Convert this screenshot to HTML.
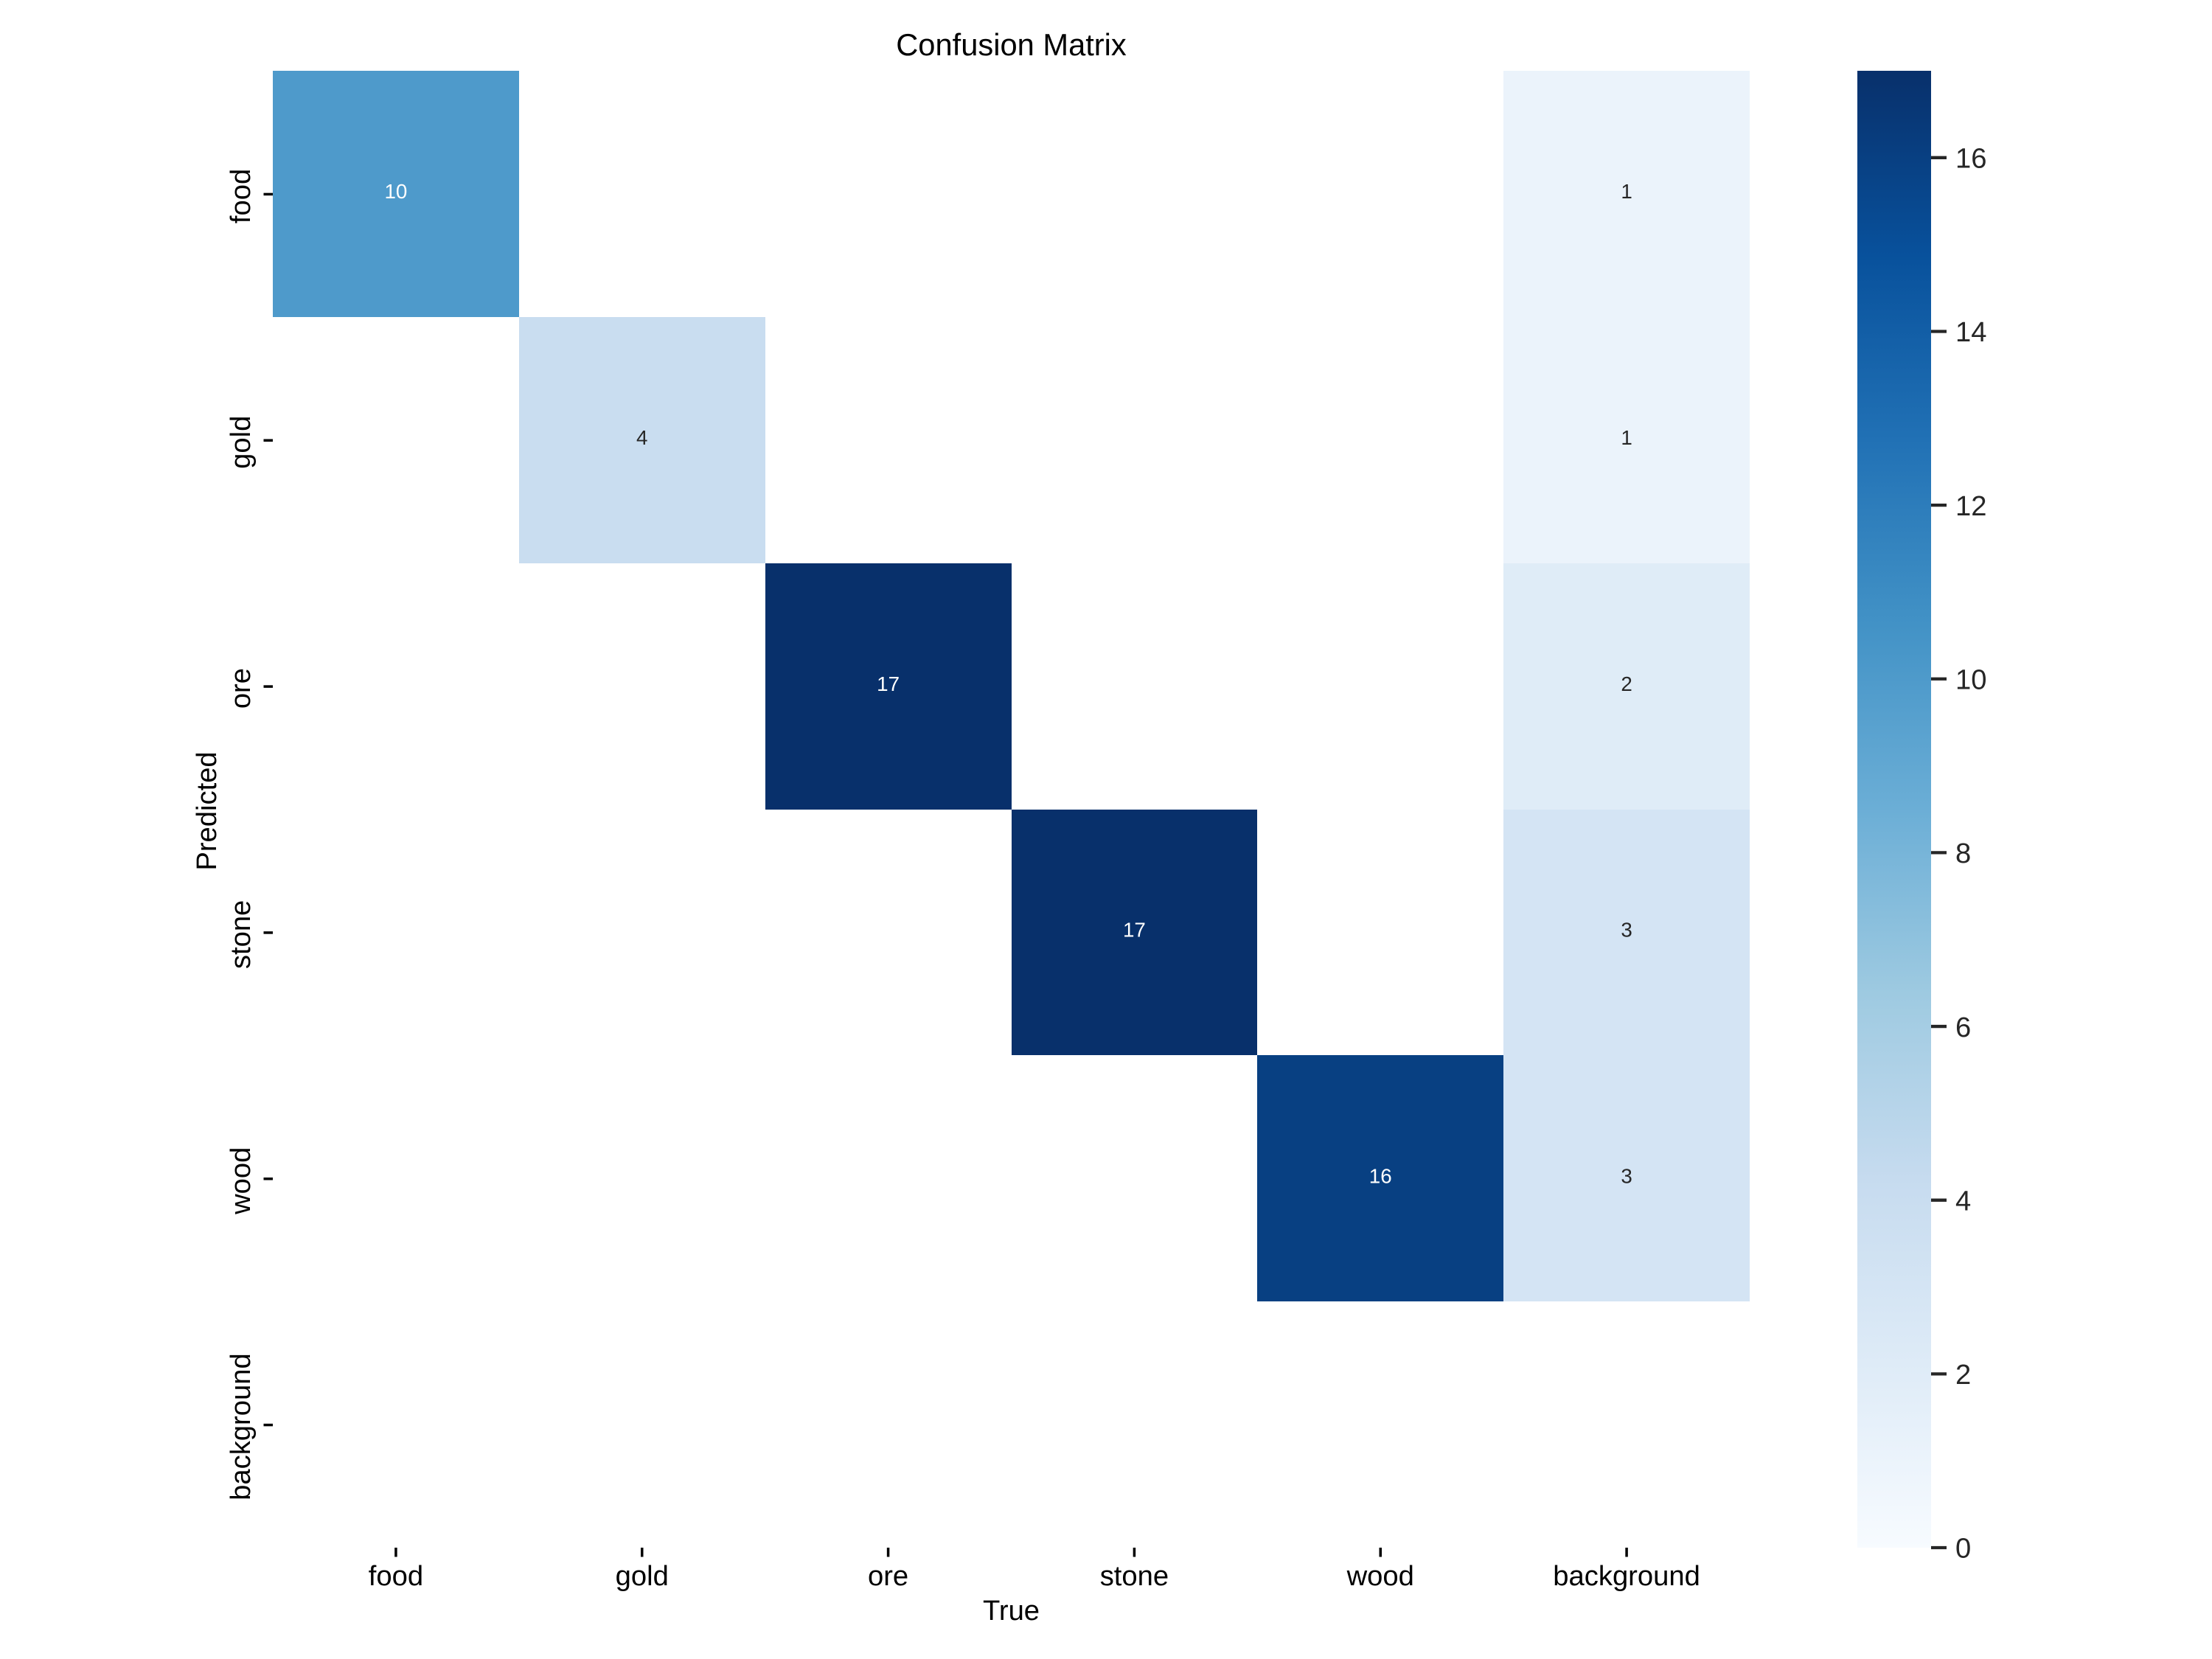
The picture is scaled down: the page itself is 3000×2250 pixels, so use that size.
<!DOCTYPE html>
<html lang="en">
<head>
<meta charset="utf-8">
<title>Confusion Matrix</title>
<style>
html,body{margin:0;padding:0;background:#fff;width:3000px;height:2250px;overflow:hidden}
svg{display:block}
text{font-family:"Liberation Sans",Arial,sans-serif}
</style>
</head>
<body>
<svg id="chart" xmlns="http://www.w3.org/2000/svg" width="3000" height="2250" viewBox="0 0 3000 2250">
  <rect x="0" y="0" width="3000" height="2250" fill="#ffffff"/>
  <defs>
    <linearGradient id="cbarGradient" x1="0" y1="1" x2="0" y2="0"></linearGradient>
  </defs>
  <g id="cells"></g>
  <g id="annotations"></g>
  <g id="xTicks"></g>
  <g id="yTicks"></g>
  <rect id="cbar" fill="url(#cbarGradient)"/>
  <g id="cbarTicks"></g>
  <text x="1371.5" y="75" font-size="41.67" text-anchor="middle" fill="#000">Confusion Matrix</text>
  <text x="1371.5" y="2197" font-size="38.2" text-anchor="middle" fill="#000">True</text>
  <text transform="translate(293 1100) rotate(-90)" font-size="38.2" text-anchor="middle" fill="#000">Predicted</text>
</svg>
<script>
const trueLabels = ['food', 'gold', 'ore', 'stone', 'wood', 'background'];
const predictedLabels = ['food', 'gold', 'ore', 'stone', 'wood', 'background'];
const rowFood = [10, 0, 0, 0, 0, 1];
const rowGold = [0, 4, 0, 0, 0, 1];
const rowOre = [0, 0, 17, 0, 0, 2];
const rowStone = [0, 0, 0, 17, 0, 3];
const rowWood = [0, 0, 0, 0, 16, 3];
const rowBackground = [0, 0, 0, 0, 0, 0];
const matrixRows = [rowFood, rowGold, rowOre, rowStone, rowWood, rowBackground];
const colorbarTicks = [0, 2, 4, 6, 8, 10, 12, 14, 16];
const vmin = 0;
const vmax = 17;
const blues = ['#f7fbff', '#deebf7', '#c6dbef', '#9ecae1', '#6baed6', '#4292c6', '#2171b5', '#08519c', '#08306b'];

const SVG_NS = 'http://www.w3.org/2000/svg';
const plotLeft = 370, plotRight = 2373, plotTop = 96, plotBottom = 2099;
const cbarLeft = 2519, cbarRight = 2619;
const axisTickInk = 3.5;
const cbarTickInk = 4.3;

function make(tag, attrs, parent) {
  const el = document.createElementNS(SVG_NS, tag);
  for (const key in attrs) el.setAttribute(key, attrs[key]);
  parent.appendChild(el);
  return el;
}
function xBand(i) { return plotLeft + i * (plotRight - plotLeft) / trueLabels.length; }
function yBand(j) { return plotTop + j * (plotBottom - plotTop) / predictedLabels.length; }
function cbarY(v) { return plotBottom - (v - vmin) / (vmax - vmin) * (plotBottom - plotTop); }
function hexToRgb(h) { return [1, 3, 5].map(function (p) { return parseInt(h.substr(p, 2), 16); }); }
function colorFor(v) {
  const t = Math.min(1, Math.max(0, (v - vmin) / (vmax - vmin))) * (blues.length - 1);
  const k = Math.min(blues.length - 2, Math.floor(t));
  const a = hexToRgb(blues[k]), b = hexToRgb(blues[k + 1]), f = t - k;
  return 'rgb(' + a.map(function (c, n) { return Math.round(c + (b[n] - c) * f); }).join(',') + ')';
}

const cellsGroup = document.getElementById('cells');
const annotationsGroup = document.getElementById('annotations');
matrixRows.forEach(function (row, j) {
  row.forEach(function (value, i) {
    if (value === 0) return;
    const x0 = Math.round(xBand(i)), x1 = Math.round(xBand(i + 1));
    const y0 = Math.round(yBand(j)), y1 = Math.round(yBand(j + 1));
    const cell = make('rect', { x: x0, y: y0, width: x1 - x0, height: y1 - y0, fill: colorFor(value), 'shape-rendering': 'crispEdges' }, cellsGroup);
    
    
    const label = make('text', { x: (xBand(i) + xBand(i + 1)) / 2, y: (yBand(j) + yBand(j + 1)) / 2 + 6.3, 'font-size': 27.78, 'text-anchor': 'middle', fill: value / vmax > 0.5 ? '#ffffff' : '#262626' }, annotationsGroup);
    label.textContent = String(value);
    
    
  });
});

const xTicksGroup = document.getElementById('xTicks');
trueLabels.forEach(function (name, i) {
  const cx = (xBand(i) + xBand(i + 1)) / 2;
  const tick = make('line', { x1: cx, x2: cx, y1: plotBottom, y2: plotBottom + 12.5, stroke: '#000', 'stroke-width': axisTickInk }, xTicksGroup);
  
  
  const label = make('text', { x: cx, y: 2150, 'font-size': 38.2, 'text-anchor': 'middle', fill: '#000' }, xTicksGroup);
  label.textContent = name;
  
  
});

const yTicksGroup = document.getElementById('yTicks');
predictedLabels.forEach(function (name, j) {
  const cy = (yBand(j) + yBand(j + 1)) / 2;
  const tick = make('line', { x1: plotLeft - 12.5, x2: plotLeft, y1: cy + 0.5, y2: cy + 0.5, stroke: '#000', 'stroke-width': axisTickInk }, yTicksGroup);
  
  
  const label = make('text', { transform: 'translate(339 ' + (cy + 3) + ') rotate(-90)', 'font-size': 38.2, 'text-anchor': 'middle', fill: '#000' }, yTicksGroup);
  label.textContent = name;
  
  
});

const gradient = document.getElementById('cbarGradient');
blues.forEach(function (color, k) {
  make('stop', { offset: k / (blues.length - 1), 'stop-color': color }, gradient);
});
const cbar = document.getElementById('cbar');
cbar.setAttribute('x', cbarLeft);
cbar.setAttribute('y', cbarY(vmax));
cbar.setAttribute('width', cbarRight - cbarLeft);
cbar.setAttribute('height', cbarY(vmin) - cbarY(vmax));

const cbarTicksGroup = document.getElementById('cbarTicks');
colorbarTicks.forEach(function (value) {
  const y = cbarY(value);
  const tick = make('line', { x1: cbarRight, x2: cbarRight + 21, y1: y, y2: y, stroke: '#262626', 'stroke-width': cbarTickInk }, cbarTicksGroup);
  
  
  const label = make('text', { x: 2652, y: y + 13.7, 'font-size': 38.2, fill: '#262626' }, cbarTicksGroup);
  label.textContent = String(value);
  
  
});
</script>
</body>
</html>
